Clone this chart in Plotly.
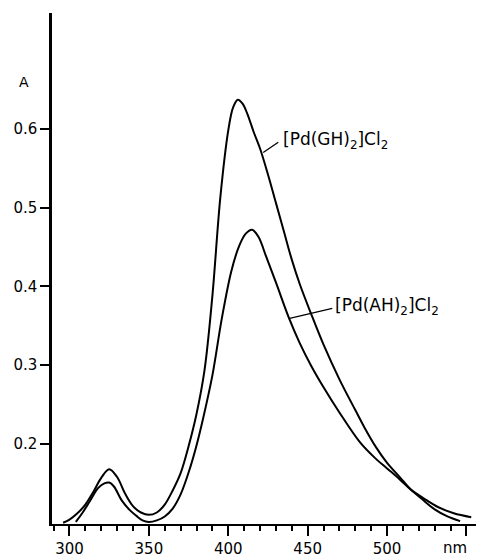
import plotly.graph_objects as go

# Wavelength (nm) and absorbance readings
wl_gh = [296, 300, 305, 310, 315, 320, 325, 330, 335, 340, 345, 350, 355, 360, 365,
         370, 375, 380, 385, 390, 395, 400, 403, 406, 409, 412, 416, 420, 425, 430,
         435, 440, 445, 452, 460, 470, 480, 486, 493, 500, 508, 515, 522, 530, 538, 546]
a_gh = [0.100, 0.104, 0.112, 0.123, 0.139, 0.157, 0.168, 0.158, 0.137, 0.121, 0.113,
        0.110, 0.113, 0.123, 0.141, 0.163, 0.197, 0.238, 0.293, 0.388, 0.513, 0.598,
        0.627, 0.637, 0.632, 0.619, 0.596, 0.575, 0.542, 0.506, 0.470, 0.434, 0.403,
        0.366, 0.326, 0.282, 0.243, 0.220, 0.196, 0.176, 0.158, 0.142, 0.130, 0.117,
        0.108, 0.102]

wl_ah = [304, 308, 313, 318, 322, 325, 328, 333, 338, 342, 346, 350, 355, 360, 365,
         370, 376, 380, 384, 390, 396, 402, 407, 411, 415, 419, 424, 430, 438, 445,
         452, 460, 470, 483, 492, 500, 508, 515, 523, 532, 542, 553]
a_ah = [0.101, 0.112, 0.128, 0.144, 0.150, 0.151, 0.146, 0.128, 0.116, 0.109, 0.103,
        0.101, 0.103, 0.108, 0.118, 0.136, 0.170, 0.198, 0.231, 0.287, 0.360, 0.420,
        0.452, 0.467, 0.472, 0.463, 0.437, 0.405, 0.361, 0.328, 0.300, 0.272, 0.240,
        0.202, 0.183, 0.169, 0.155, 0.142, 0.131, 0.120, 0.112, 0.107]

x_tickvals = [300, 350, 400, 450, 500, 550]
x_ticktext = ["300", "350", "400", "450", "500", ""]
y_tickvals = [0.2, 0.3, 0.4, 0.5, 0.6]
y_ticktext = ["0.2", "0.3", "0.4", "0.5", "0.6"]

label_gh = "[Pd(GH)<sub>2</sub>]Cl<sub>2</sub>"
label_ah = "[Pd(AH)<sub>2</sub>]Cl<sub>2</sub>"

FONT = "DejaVu Sans"

fig = go.Figure()
fig.add_trace(go.Scatter(x=wl_gh, y=a_gh, mode="lines",
                         line=dict(color="black", width=2, shape="spline", smoothing=1.0),
                         showlegend=False, hoverinfo="skip"))
fig.add_trace(go.Scatter(x=wl_ah, y=a_ah, mode="lines",
                         line=dict(color="black", width=2, shape="spline", smoothing=1.0),
                         showlegend=False, hoverinfo="skip"))

# leader lines
fig.add_shape(type="line", x0=422.0, y0=0.570, x1=431.5, y1=0.583,
              line=dict(color="black", width=1.3))
fig.add_shape(type="line", x0=438.0, y0=0.359, x1=465.5, y1=0.372,
              line=dict(color="black", width=1.3))

fig.add_annotation(x=433.0, y=0.585, xref="x", yref="y", text=label_gh, showarrow=False,
                   xanchor="left", yanchor="middle", font=dict(family=FONT, size=17, color="black"))
fig.add_annotation(x=466.0, y=0.374, xref="x", yref="y", text=label_ah, showarrow=False,
                   xanchor="left", yanchor="middle", font=dict(family=FONT, size=17, color="black"))

fig.add_annotation(x=0, y=0.66, xref="paper", yref="y", text="A", showarrow=False,
                   xanchor="center", yanchor="middle", xshift=-28,
                   font=dict(family=FONT, size=14, color="black"))
fig.add_annotation(x=542.6, y=0, xref="x", yref="paper", text="nm", showarrow=False,
                   xanchor="center", yanchor="top", yshift=-13,
                   font=dict(family=FONT, size=15, color="black"))

fig.update_layout(
    width=486, height=557,
    margin=dict(l=52, r=10, t=13, b=33, autoexpand=False),
    paper_bgcolor="white", plot_bgcolor="white",
    font=dict(family=FONT, size=15, color="black"),
    xaxis=dict(range=[289, 556], tickmode="array", tickvals=x_tickvals, ticktext=x_ticktext,
               ticks="outside", ticklen=10, tickwidth=2, tickcolor="black", automargin=False,
               showline=True, linecolor="black", linewidth=2, showgrid=False, zeroline=False,
               minor=dict(tickmode="linear", tick0=300, dtick=10, ticks="outside",
                          ticklen=5, tickwidth=1.5, tickcolor="black", showgrid=False)),
    yaxis=dict(range=[0.0984, 0.747], tickmode="array", tickvals=y_tickvals, ticktext=y_ticktext,
               ticks="outside", ticklen=9, tickwidth=2, tickcolor="black", automargin=False,
               showline=True, linecolor="black", linewidth=2.5, showgrid=False, zeroline=False),
)

fig.write_html("out.html", config={"displayModeBar": False},
               post_script="document.body.style.margin='0';")
